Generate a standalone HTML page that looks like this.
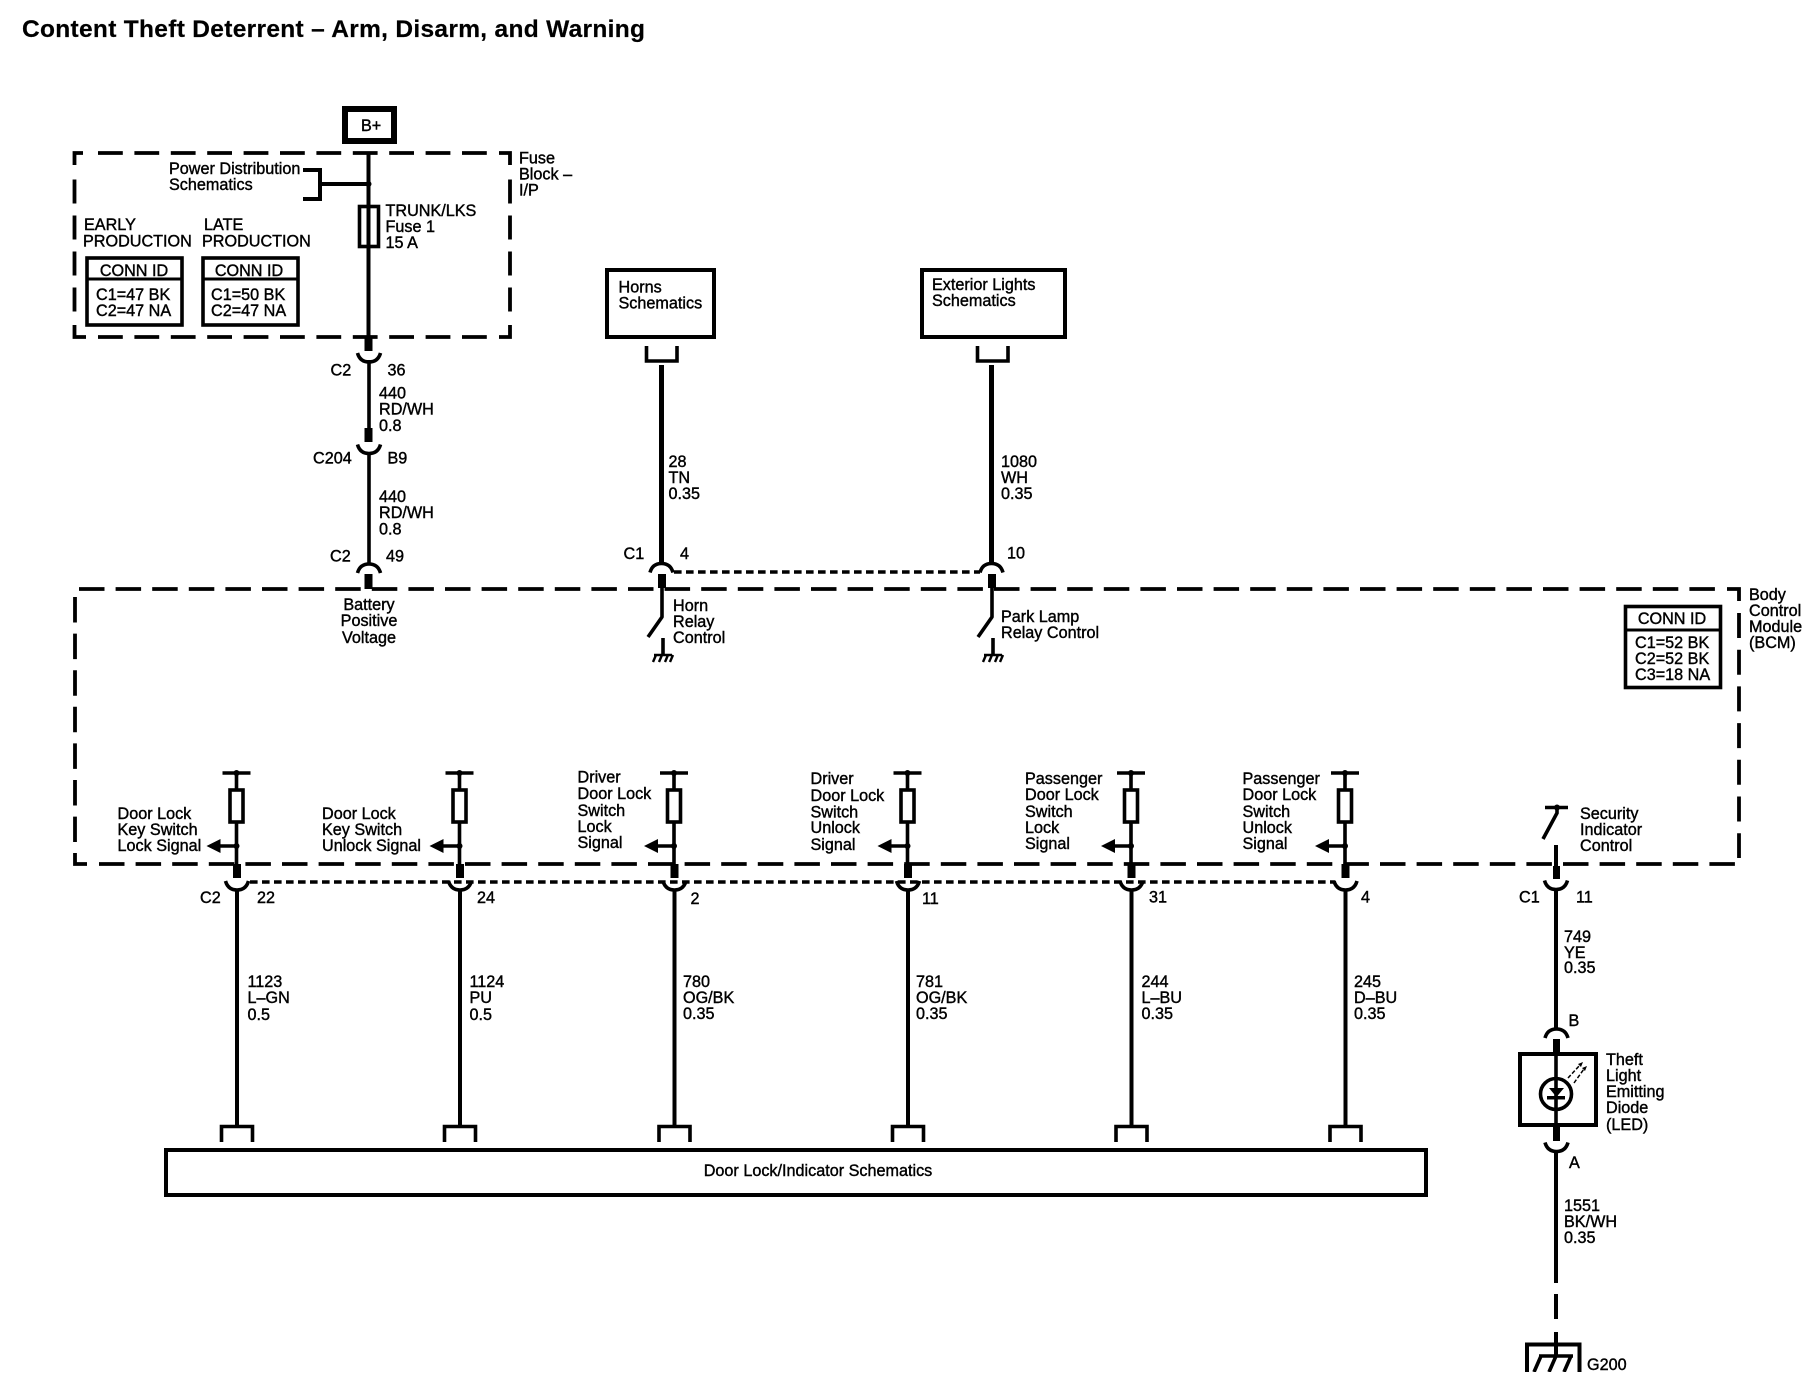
<!DOCTYPE html>
<html><head><meta charset="utf-8"><title>Content Theft Deterrent</title>
<style>
html,body{margin:0;padding:0;background:#fff;width:1814px;height:1392px;overflow:hidden}
svg{display:block}
text{font-family:"Liberation Sans",Arial,sans-serif;font-size:16.2px;fill:#000;stroke:#000;stroke-width:.4px}
.t{font-size:24.5px;font-weight:bold;stroke-width:.2px}
.s{fill:none;stroke:#000;stroke-width:3.6}
.w{fill:none;stroke:#000;stroke-width:4}
.h{fill:none;stroke:#000;stroke-width:5}
.d{fill:none;stroke:#000;stroke-width:3.8;stroke-dasharray:25.5 11.1}
.f{fill:none;stroke:#000;stroke-width:3.8;stroke-dasharray:24.8 11.6}
.p{fill:none;stroke:#000;stroke-width:3.6;stroke-dasharray:7.6 4.4}
.m{text-anchor:middle}
</style></head><body>
<svg width="1814" height="1392" viewBox="0 0 1814 1392" xmlns="http://www.w3.org/2000/svg">
<defs>
<g id="cup"><path class="s" d="M-11.5 0Q-9 9 0 9Q9 9 11.5 0"/></g>
<g id="arc"><path class="s" d="M-11.5 0Q-9 -9 0 -9Q9 -9 11.5 0"/></g>
<g id="col">
<path class="s" d="M-14 773H14M0 773V789M0 822V866"/>
<circle cx="0" cy="773" r="3"/>
<rect class="s" x="-6.5" y="790" width="13" height="32"/>
<circle cx="0" cy="846" r="3"/>
<path class="s" d="M0 846H-18"/>
<path d="M-30 846L-16 839V853Z"/>
<rect x="-3.5" y="864" width="8" height="14"/>
<use href="#cup" x="0.5" y="881"/>
<path class="w" d="M0.5 890V1125"/>
<path class="s" d="M-15 1142V1126.5H16V1142"/>
</g>
<g id="gnd">
<path class="s" d="M0 638V655"/>
<path class="s" style="stroke-width:2.4" d="M-9 655H9M-7 655L-10 662M-1 655L-4 662M5 655L2 662M10 655L7 662"/>
</g>
</defs>

<text class="t" x="22" y="37" textLength="623" lengthAdjust="spacing">Content Theft Deterrent – Arm, Disarm, and Warning</text>

<!-- B+ -->
<rect x="345" y="109" width="49" height="32" fill="none" stroke="#000" stroke-width="6"/>
<text x="361" y="131">B+</text>

<!-- Fuse block dashed box -->
<path class="s" style="stroke-width:3.8" d="M83 153H74.5V165M499 153H510V165M74.5 325V337H86M510 325V337H499"/>
<path class="f" d="M98 153H488M98 337H488"/>
<path class="f" d="M74.5 179.5V312M510 179.5V312" style="stroke-dasharray:24 12"/>
<text x="519" y="163.5">Fuse</text><text x="519" y="179.5">Block –</text><text x="519" y="195.5">I/P</text>

<path class="w" d="M368.5 152V337"/>
<circle cx="368.5" cy="184" r="3"/>
<path class="w" d="M303 170H320V199H303"/>
<path class="w" d="M320 184H368"/>
<text x="169" y="174">Power Distribution</text><text x="169" y="190">Schematics</text>
<rect class="s" x="359.5" y="206.5" width="19" height="40"/>
<text x="385.5" y="216">TRUNK/LKS</text><text x="385.5" y="232">Fuse 1</text><text x="385.5" y="248">15 A</text>

<text x="84" y="230">EARLY</text><text x="83" y="246.5">PRODUCTION</text>
<text x="204" y="230">LATE</text><text x="202" y="246.5">PRODUCTION</text>

<rect class="s" x="87" y="258" width="95" height="67"/>
<path class="s" style="stroke-width:3" d="M87 279H182"/>
<text class="m" x="134" y="276">CONN ID</text>
<text x="96" y="300">C1=47 BK</text><text x="96" y="316">C2=47 NA</text>
<rect class="s" x="203" y="258" width="95" height="67"/>
<path class="s" style="stroke-width:3" d="M203 279H298"/>
<text class="m" x="249" y="276">CONN ID</text>
<text x="211" y="300">C1=50 BK</text><text x="211" y="316">C2=47 NA</text>

<!-- Left wire -->
<rect x="364.5" y="336" width="8" height="15"/>
<use href="#cup" x="369" y="353"/>
<path class="s" d="M369 360V428"/>
<text x="330.5" y="375.5">C2</text><text x="387.5" y="375.5">36</text>
<text x="379" y="398.5">440</text><text x="379" y="414.5">RD/WH</text><text x="379" y="431">0.8</text>
<rect x="364.5" y="428" width="8" height="14"/>
<use href="#cup" x="369" y="444.5"/>
<path class="s" d="M369 452V565"/>
<text x="313" y="463.5">C204</text><text x="387.5" y="463.5">B9</text>
<text x="379" y="502">440</text><text x="379" y="518">RD/WH</text><text x="379" y="534.5">0.8</text>
<text x="330" y="561.5">C2</text><text x="386" y="561.5">49</text>
<use href="#arc" x="369" y="573"/>
<rect x="364.5" y="574" width="8" height="15"/>
<text class="m" x="369" y="610">Battery</text><text class="m" x="369" y="626">Positive</text><text class="m" x="369" y="643">Voltage</text>

<!-- Schematic boxes -->
<rect class="w" x="607" y="270" width="107" height="67"/>
<text x="618.5" y="292.5">Horns</text><text x="618.5" y="308.5">Schematics</text>
<rect class="w" x="922" y="270" width="143" height="67"/>
<text x="932" y="290">Exterior Lights</text><text x="932" y="306">Schematics</text>

<path class="s" d="M646.5 346V361H677V346"/>
<path class="s" d="M977.5 346V361H1008V346"/>
<path class="h" d="M661.5 365V565"/>
<path class="h" d="M991.5 365V565"/>
<text x="668.5" y="467">28</text><text x="668.5" y="483">TN</text><text x="668.5" y="499">0.35</text>
<text x="1001" y="467">1080</text><text x="1001" y="483">WH</text><text x="1001" y="499">0.35</text>
<text x="623.5" y="559">C1</text><text x="680" y="559">4</text><text x="1007" y="558.5">10</text>
<use href="#arc" x="661.5" y="572.5"/><use href="#arc" x="991.5" y="572.5"/>
<path class="p" d="M674 572H980"/>
<rect x="658" y="574" width="8" height="14"/>
<rect x="988" y="574" width="8" height="14"/>

<!-- Horn / Park lamp internals -->
<path class="s" d="M662 588V617L648 637" stroke-linejoin="round"/>
<path class="s" d="M992 588V617L978 637" stroke-linejoin="round"/>
<use href="#gnd" x="663"/><use href="#gnd" x="993"/>
<text x="673" y="611">Horn</text><text x="673" y="627">Relay</text><text x="673" y="643">Control</text>
<text x="1001" y="622">Park Lamp</text><text x="1001" y="638">Relay Control</text>

<!-- BCM dashed box -->
<path class="d" d="M79 589H1718"/>
<path class="s" style="stroke-width:3.8" d="M1727 589H1739V601"/>
<path class="d" d="M1739 613V858" style="stroke-dasharray:25 11.7"/>
<path class="d" d="M99 864H1735"/>
<path class="d" d="M75 597V842"/>
<path class="s" style="stroke-width:3.8" d="M75 853V864H87"/>
<text x="1749" y="600">Body</text><text x="1749" y="616">Control</text><text x="1749" y="632">Module</text><text x="1749" y="648">(BCM)</text>
<rect class="s" x="1625.5" y="606.5" width="95" height="81"/>
<path class="s" style="stroke-width:3" d="M1625 630H1721"/>
<text class="m" x="1672" y="624">CONN ID</text>
<text x="1635" y="648">C1=52 BK</text><text x="1635" y="664">C2=52 BK</text><text x="1635" y="680">C3=18 NA</text>

<!-- Columns -->
<path class="p" d="M250 882H1335"/>
<use href="#col" x="236.5"/>
<use href="#col" x="459.5"/>
<use href="#col" x="674"/>
<use href="#col" x="907.5"/>
<use href="#col" x="1131"/>
<use href="#col" x="1345"/>

<text x="117.5" y="819">Door Lock</text><text x="117.5" y="835">Key Switch</text><text x="117.5" y="851">Lock Signal</text>
<text x="322" y="819">Door Lock</text><text x="322" y="835">Key Switch</text><text x="322" y="851">Unlock Signal</text>
<text x="577.5" y="782.5">Driver</text><text x="577.5" y="799">Door Lock</text><text x="577.5" y="816">Switch</text><text x="577.5" y="832">Lock</text><text x="577.5" y="848">Signal</text>
<text x="810.5" y="784">Driver</text><text x="810.5" y="801">Door Lock</text><text x="810.5" y="817.5">Switch</text><text x="810.5" y="833">Unlock</text><text x="810.5" y="850">Signal</text>
<text x="1025" y="784">Passenger</text><text x="1025" y="800">Door Lock</text><text x="1025" y="817">Switch</text><text x="1025" y="833">Lock</text><text x="1025" y="849">Signal</text>
<text x="1242.5" y="784">Passenger</text><text x="1242.5" y="800">Door Lock</text><text x="1242.5" y="817">Switch</text><text x="1242.5" y="833">Unlock</text><text x="1242.5" y="849">Signal</text>

<text x="200" y="903">C2</text><text x="257" y="903">22</text><text x="477" y="903">24</text><text x="690.5" y="904">2</text><text x="922" y="904">11</text><text x="1149" y="902.5">31</text><text x="1361" y="902.5">4</text>

<text x="247.5" y="987">1123</text><text x="247.5" y="1003">L–GN</text><text x="247.5" y="1020">0.5</text>
<text x="469.5" y="987">1124</text><text x="469.5" y="1003">PU</text><text x="469.5" y="1020">0.5</text>
<text x="683" y="987">780</text><text x="683" y="1003">OG/BK</text><text x="683" y="1019">0.35</text>
<text x="916" y="987">781</text><text x="916" y="1003">OG/BK</text><text x="916" y="1019">0.35</text>
<text x="1141.5" y="987">244</text><text x="1141.5" y="1003">L–BU</text><text x="1141.5" y="1019">0.35</text>
<text x="1354" y="987">245</text><text x="1354" y="1003">D–BU</text><text x="1354" y="1019">0.35</text>

<!-- Door lock box -->
<rect x="166" y="1150" width="1260" height="45" fill="none" stroke="#000" stroke-width="4"/>
<text class="m" x="818" y="1176">Door Lock/Indicator Schematics</text>

<!-- Security indicator -->
<path class="s" d="M1545 807.5H1568M1557 807.5V813L1543 839"/>
<circle cx="1557" cy="807.5" r="3"/>
<path class="w" d="M1556 845V866"/>
<rect x="1553" y="866" width="7" height="13"/>
<use href="#cup" x="1556" y="880.5"/>
<path class="w" d="M1556 888V1030"/>
<text x="1580" y="819">Security</text><text x="1580" y="835">Indicator</text><text x="1580" y="851">Control</text>
<text x="1519" y="902.5">C1</text><text x="1576" y="902.5">11</text>
<text x="1564" y="942">749</text><text x="1564" y="958">YE</text><text x="1564" y="973">0.35</text>

<!-- LED -->
<text x="1568.5" y="1026">B</text>
<use href="#arc" x="1556.5" y="1038"/>
<rect x="1553" y="1039" width="7" height="14"/>
<rect class="w" x="1520" y="1054" width="76" height="71"/>
<path class="s" d="M1556 1053V1127"/>
<circle cx="1556" cy="1094" r="15.5" fill="none" stroke="#000" stroke-width="3.6"/>
<path d="M1549 1088H1564L1556.5 1097Z"/>
<rect x="1547" y="1096" width="18" height="3.5"/>
<path class="s" style="stroke-width:1.5;stroke-dasharray:4 2" d="M1568 1078L1580 1065M1574 1083L1584 1069"/>
<path d="M1583 1062l-5 2 3 3zM1587 1066l-5 2 3 3z"/>
<text x="1606" y="1065">Theft</text><text x="1606" y="1081">Light</text><text x="1606" y="1097">Emitting</text><text x="1606" y="1113">Diode</text><text x="1606" y="1130">(LED)</text>
<rect x="1553" y="1127" width="7" height="14"/>
<use href="#cup" x="1556.5" y="1142.5"/>
<text x="1569" y="1168">A</text>
<path class="w" d="M1556 1151V1283"/>
<text x="1564" y="1211">1551</text><text x="1564" y="1227">BK/WH</text><text x="1564" y="1243">0.35</text>
<path class="w" d="M1556 1294V1319M1556 1332V1356"/>
<path class="w" d="M1527 1372V1344.5H1579.5V1372"/>
<path class="s" d="M1539 1356H1573M1541 1356L1534 1372M1556 1356L1549 1372M1571 1356L1564 1372"/>
<rect x="1520" y="1372" width="70" height="20" fill="#fff"/>
<text x="1587" y="1370">G200</text>
</svg>
</body></html>
